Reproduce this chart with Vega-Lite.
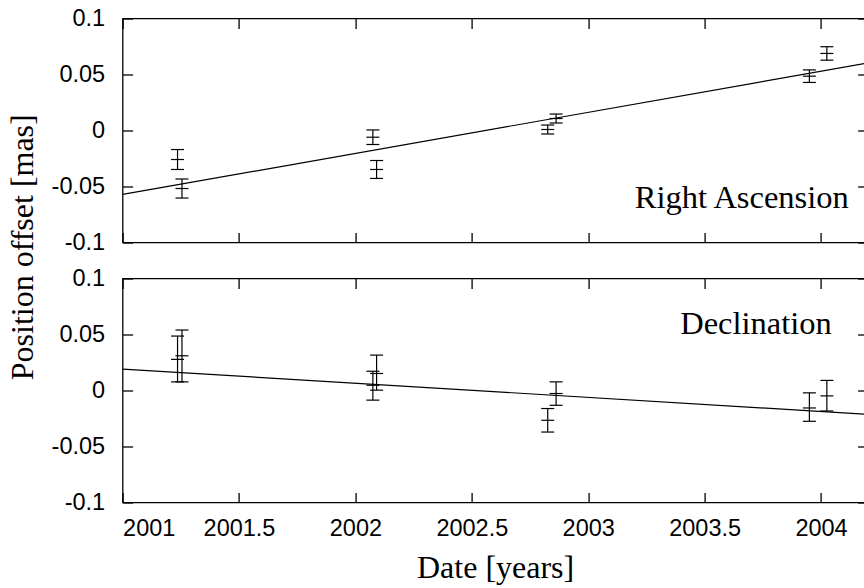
{
  "$schema": "https://vega.github.io/schema/vega-lite/v6.json",
  "background": "white",
  "padding": {"left": 6.6, "top": 5.5, "right": 0, "bottom": 0},
  "title": {"text": "Position offset [mas]", "orient": "left", "anchor": "middle", "font": "Liberation Serif", "fontSize": 32, "fontWeight": "normal", "color": "black", "offset": 10, "dx": 48},
  "datasets": {
    "pts": [
      {"panel": "RA", "year": 2001.236, "val": -0.0259, "lo": -0.0348, "hi": -0.0170},
      {"panel": "RA", "year": 2001.255, "val": -0.0518, "lo": -0.0603, "hi": -0.0433},
      {"panel": "RA", "year": 2002.075, "val": -0.0060, "lo": -0.0125, "hi": 0.0005},
      {"panel": "RA", "year": 2002.091, "val": -0.0348, "lo": -0.0428, "hi": -0.0268},
      {"panel": "RA", "year": 2002.826, "val": 0.0009, "lo": -0.0031, "hi": 0.0049},
      {"panel": "RA", "year": 2002.862, "val": 0.0107, "lo": 0.0067, "hi": 0.0147},
      {"panel": "RA", "year": 2003.950, "val": 0.0485, "lo": 0.0429, "hi": 0.0541},
      {"panel": "RA", "year": 2004.025, "val": 0.0688, "lo": 0.0628, "hi": 0.0748},
      {"panel": "Dec", "year": 2001.236, "val": 0.0278, "lo": 0.0077, "hi": 0.0486},
      {"panel": "Dec", "year": 2001.255, "val": 0.0310, "lo": 0.0077, "hi": 0.0540},
      {"panel": "Dec", "year": 2002.075, "val": 0.0047, "lo": -0.0086, "hi": 0.0172},
      {"panel": "Dec", "year": 2002.091, "val": 0.0152, "lo": 0.0003, "hi": 0.0316},
      {"panel": "Dec", "year": 2002.826, "val": -0.0266, "lo": -0.0371, "hi": -0.0161},
      {"panel": "Dec", "year": 2002.862, "val": -0.0027, "lo": -0.0132, "hi": 0.0077},
      {"panel": "Dec", "year": 2003.950, "val": -0.0156, "lo": -0.0275, "hi": -0.0021},
      {"panel": "Dec", "year": 2004.025, "val": -0.0048, "lo": -0.0183, "hi": 0.0090}
    ],
    "fit": [
      {"panel": "RA", "year": 2001.0, "val": -0.0571},
      {"panel": "RA", "year": 2004.2, "val": 0.0602},
      {"panel": "Dec", "year": 2001.0, "val": 0.0191},
      {"panel": "Dec", "year": 2004.2, "val": -0.0213}
    ],
    "labels": [
      {"panel": "RA", "year": 2004.119, "val": -0.0696, "text": "Right Ascension"},
      {"panel": "Dec", "year": 2004.046, "val": 0.0504, "text": "Declination"}
    ]
  },
  "spacing": 10,
  "vconcat": [
    {
      "width": 745,
      "height": 224,
      "resolve": {"axis": {"x": "independent", "y": "independent"}},
      "layer": [
        {
          "data": {"name": "fit"},
          "transform": [{"filter": "datum.panel == 'RA'"}],
          "mark": {"type": "line", "color": "black", "strokeWidth": 1.2, "clip": true},
          "encoding": {
            "x": {"field": "year", "type": "quantitative", "scale": {"domain": [2001, 2004.2], "nice": false, "zero": false},
                  "axis": {"orient": "bottom", "labels": false, "title": null, "values": [2001, 2001.5, 2002, 2002.5, 2003, 2003.5, 2004]}},
            "y": {"field": "val", "type": "quantitative", "scale": {"domain": [-0.1, 0.1], "nice": false, "zero": false},
                  "axis": {"orient": "left", "title": null, "values": [-0.1, -0.05, 0, 0.05, 0.1], "labelExpr": "'' + datum.value", "labelPadding": 28}}
          }
        },
        {
          "data": {"name": "pts"},
          "transform": [{"filter": "datum.panel == 'RA'"}],
          "mark": {"type": "rule", "color": "black", "strokeWidth": 1.2},
          "encoding": {
            "x": {"field": "year", "type": "quantitative", "axis": null},
            "y": {"field": "lo", "type": "quantitative", "axis": null},
            "y2": {"field": "hi"}
          }
        },
        {
          "data": {"name": "pts"},
          "transform": [{"filter": "datum.panel == 'RA'"}],
          "mark": {"type": "tick", "orient": "horizontal", "size": 13, "thickness": 1.2, "color": "black", "opacity": 1},
          "encoding": {
            "x": {"field": "year", "type": "quantitative", "axis": null},
            "y": {"field": "lo", "type": "quantitative", "axis": null}
          }
        },
        {
          "data": {"name": "pts"},
          "transform": [{"filter": "datum.panel == 'RA'"}],
          "mark": {"type": "tick", "orient": "horizontal", "size": 13, "thickness": 1.2, "color": "black", "opacity": 1},
          "encoding": {
            "x": {"field": "year", "type": "quantitative", "axis": null},
            "y": {"field": "hi", "type": "quantitative", "axis": null}
          }
        },
        {
          "data": {"name": "pts"},
          "transform": [{"filter": "datum.panel == 'RA'"}],
          "mark": {"type": "tick", "orient": "horizontal", "size": 13, "thickness": 1.2, "color": "black", "opacity": 1},
          "encoding": {
            "x": {"field": "year", "type": "quantitative",
                  "axis": {"orient": "top", "labels": false, "title": null, "values": [2001, 2001.5, 2002, 2002.5, 2003, 2003.5, 2004]}},
            "y": {"field": "val", "type": "quantitative",
                  "axis": {"orient": "right", "labels": false, "title": null, "values": [-0.1, -0.05, 0, 0.05, 0.1]}}
          }
        },
        {
          "data": {"name": "labels"},
          "transform": [{"filter": "datum.panel == 'RA'"}],
          "mark": {"type": "text", "align": "right", "baseline": "alphabetic", "font": "Liberation Serif", "fontSize": 32.5, "color": "black"},
          "encoding": {
            "x": {"field": "year", "type": "quantitative", "axis": null},
            "y": {"field": "val", "type": "quantitative", "axis": null},
            "text": {"field": "text"}
          }
        }
      ]
    },
    {
      "width": 745,
      "height": 224,
      "resolve": {"axis": {"x": "independent", "y": "independent"}},
      "layer": [
        {
          "data": {"name": "fit"},
          "transform": [{"filter": "datum.panel == 'Dec'"}],
          "mark": {"type": "line", "color": "black", "strokeWidth": 1.2, "clip": true},
          "encoding": {
            "x": {"field": "year", "type": "quantitative", "scale": {"domain": [2001, 2004.2], "nice": false, "zero": false},
                  "axis": {"orient": "bottom", "title": "Date [years]", "values": [2001, 2001.5, 2002, 2002.5, 2003, 2003.5, 2004], "labelExpr": "'' + datum.value", "labelPadding": 24, "titlePadding": 13}},
            "y": {"field": "val", "type": "quantitative", "scale": {"domain": [-0.1, 0.1], "nice": false, "zero": false},
                  "axis": {"orient": "left", "title": null, "values": [-0.1, -0.05, 0, 0.05, 0.1], "labelExpr": "'' + datum.value", "labelPadding": 28}}
          }
        },
        {
          "data": {"name": "pts"},
          "transform": [{"filter": "datum.panel == 'Dec'"}],
          "mark": {"type": "rule", "color": "black", "strokeWidth": 1.2},
          "encoding": {
            "x": {"field": "year", "type": "quantitative", "axis": null},
            "y": {"field": "lo", "type": "quantitative", "axis": null},
            "y2": {"field": "hi"}
          }
        },
        {
          "data": {"name": "pts"},
          "transform": [{"filter": "datum.panel == 'Dec'"}],
          "mark": {"type": "tick", "orient": "horizontal", "size": 13, "thickness": 1.2, "color": "black", "opacity": 1},
          "encoding": {
            "x": {"field": "year", "type": "quantitative", "axis": null},
            "y": {"field": "lo", "type": "quantitative", "axis": null}
          }
        },
        {
          "data": {"name": "pts"},
          "transform": [{"filter": "datum.panel == 'Dec'"}],
          "mark": {"type": "tick", "orient": "horizontal", "size": 13, "thickness": 1.2, "color": "black", "opacity": 1},
          "encoding": {
            "x": {"field": "year", "type": "quantitative", "axis": null},
            "y": {"field": "hi", "type": "quantitative", "axis": null}
          }
        },
        {
          "data": {"name": "pts"},
          "transform": [{"filter": "datum.panel == 'Dec'"}],
          "mark": {"type": "tick", "orient": "horizontal", "size": 13, "thickness": 1.2, "color": "black", "opacity": 1},
          "encoding": {
            "x": {"field": "year", "type": "quantitative",
                  "axis": {"orient": "top", "labels": false, "title": null, "values": [2001, 2001.5, 2002, 2002.5, 2003, 2003.5, 2004]}},
            "y": {"field": "val", "type": "quantitative",
                  "axis": {"orient": "right", "labels": false, "title": null, "values": [-0.1, -0.05, 0, 0.05, 0.1]}}
          }
        },
        {
          "data": {"name": "labels"},
          "transform": [{"filter": "datum.panel == 'Dec'"}],
          "mark": {"type": "text", "align": "right", "baseline": "alphabetic", "font": "Liberation Serif", "fontSize": 32.5, "color": "black"},
          "encoding": {
            "x": {"field": "year", "type": "quantitative", "axis": null},
            "y": {"field": "val", "type": "quantitative", "axis": null},
            "text": {"field": "text"}
          }
        }
      ]
    }
  ],
  "config": {
    "view": {"stroke": "black", "strokeWidth": 1.3},
    "axis": {
      "domain": false, "grid": false,
      "ticks": true, "tickColor": "black", "tickWidth": 1.3, "tickSize": -10,
      "labelFont": "Liberation Sans", "labelFontSize": 23.5, "labelColor": "black",
      "titleFont": "Liberation Serif", "titleFontSize": 32, "titleFontWeight": "normal", "titleColor": "black"
    }
  }
}
